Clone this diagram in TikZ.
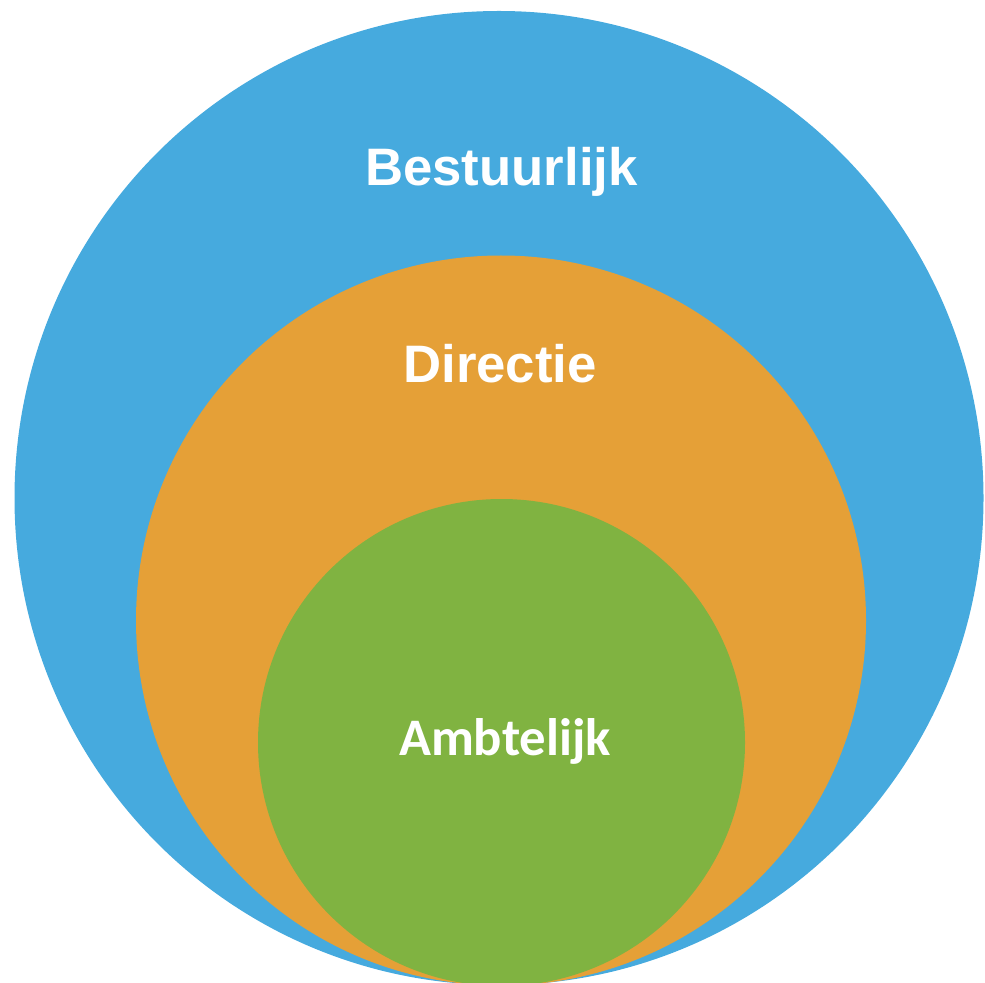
\documentclass[tikz,border=0pt]{standalone}
\usepackage{fontspec}
\usepackage{tikz}
\newfontfamily\arialbold{Liberation Sans}
\newfontfamily\calibri{Carlito}
\definecolor{outer}{RGB}{70, 170, 222}
\definecolor{middle}{RGB}{229, 160, 55}
\definecolor{inner}{RGB}{128, 179, 65}
\newcommand*{\labelsize}{\fontsize{37.5}{40}\selectfont}

\begin{document}
\begin{tikzpicture}[x=0.025cm, y=-0.025cm]
  \useasboundingbox (0, 0) rectangle (985, 983);

  \fill [fill=outer] (499, 498) ellipse [x radius=484.5, y radius=487];
  \fill [fill=middle] (501, 620.5) circle [radius=365];
  \fill [fill=inner] (501.5, 742.5) circle [radius=243.5];

  \node[anchor=base, text=white, font=\arialbold\bfseries\labelsize] (bestuurlijk) at (501.5, 186) {Bestuurlijk};
  \node[anchor=base, text=white, font=\arialbold\bfseries\labelsize] (directie) at (500, 383) {Directie};
  \node[anchor=base, text=white, font=\calibri\bfseries\labelsize] (ambtelijk) at (505, 755) {Ambtelijk};

\end{tikzpicture}
\end{document}
